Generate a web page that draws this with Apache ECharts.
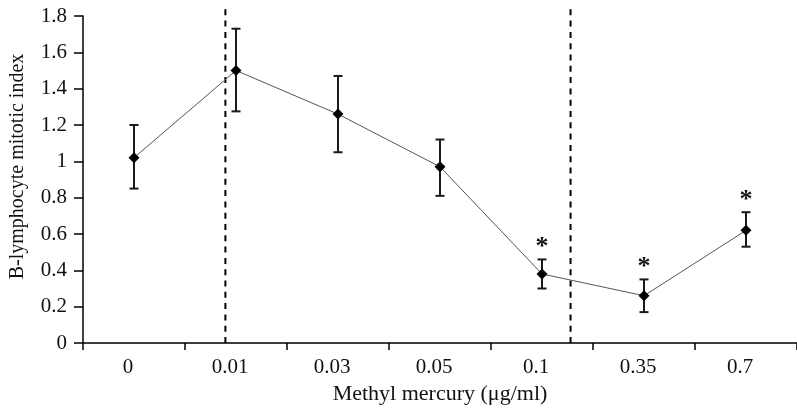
<!DOCTYPE html>
<html>
<head>
<meta charset="utf-8">
<script src="https://cdn.jsdelivr.net/npm/echarts@6/dist/echarts.min.js"></script>
<style>html,body{margin:0;padding:0;background:#fff;}#c{width:797px;height:411px;}</style>
</head>
<body>
<div id="c"></div>
<script>
var categories = ['0', '0.01', '0.03', '0.05', '0.1', '0.35', '0.7'];
var meanValues = [1.02, 1.50, 1.26, 0.97, 0.38, 0.26, 0.62];
var lowerValues = [0.85, 1.275, 1.05, 0.81, 0.30, 0.17, 0.53];
var upperValues = [1.20, 1.73, 1.47, 1.12, 0.46, 0.35, 0.72];
var significant = [false, false, false, false, true, true, true];
var dividerPositions = [0.896, 4.28];
var dividerTop = 1.85;
var yTicks = {min: 0, max: 1.8, interval: 0.2};

var FONT = '"Liberation Serif", "DejaVu Serif", serif';
var chart = echarts.init(document.getElementById('c'), null, {renderer: 'canvas'});

var errData = categories.map(function (c, i) { return [i, lowerValues[i], upperValues[i], significant[i] ? 1 : 0]; });

var dividerSeries = dividerPositions.map(function (p) {
  return {
    type: 'line', xAxisIndex: 1, yAxisIndex: 0, clip: false, silent: true,
    symbol: 'none', data: [[p, 0], [p, dividerTop]],
    lineStyle: {color: '#000', width: 2, type: [6, 5.3]}, z: 1
  };
});

chart.setOption({
  animation: false,
  backgroundColor: '#fff',
  grid: {left: 81, right: -6, top: 16, bottom: 68},
  xAxis: [{
    type: 'category', data: categories, boundaryGap: true,
    axisLine: {onZero: false, lineStyle: {color: '#000', width: 1.5}},
    axisTick: {show: true, length: 7, lineStyle: {color: '#000', width: 1.5}},
    axisLabel: {color: '#111', fontFamily: FONT, fontSize: 21, margin: 14, padding: [0, 12, 0, 0]},
    name: 'Methyl mercury (μg/ml)', nameLocation: 'middle', nameGap: 38,
    nameTextStyle: {color: '#111', fontFamily: FONT, fontSize: 22}
  }, {
    type: 'value', min: -0.5, max: 6.5, show: false
  }],
  yAxis: [{
    type: 'value', min: yTicks.min, max: yTicks.max, interval: yTicks.interval,
    splitLine: {show: false},
    axisLine: {show: true, onZero: false, lineStyle: {color: '#000', width: 1.5}},
    axisTick: {show: true, length: 9, lineStyle: {color: '#000', width: 1.5}},
    axisLabel: {color: '#111', fontFamily: FONT, fontSize: 21, margin: 16},
    name: 'B-lymphocyte mitotic index', nameLocation: 'middle', nameGap: 55,
    nameTextStyle: {color: '#111', fontFamily: FONT, fontSize: 20, padding: [0, 0, 0, 26]}
  }],
  series: dividerSeries.concat([
    {
      type: 'custom', xAxisIndex: 0, yAxisIndex: 0, data: errData, z: 3,
      renderItem: function (params, api) {
        var x = api.value(0);
        var lo = api.coord([x, api.value(1)]);
        var hi = api.coord([x, api.value(2)]);
        var cap = 4.5;
        var style = {stroke: '#1a1a1a', lineWidth: 2};
        var children = [
          {type: 'line', shape: {x1: lo[0], y1: lo[1], x2: hi[0], y2: hi[1]}, style: style},
          {type: 'line', shape: {x1: lo[0] - cap, y1: lo[1], x2: lo[0] + cap, y2: lo[1]}, style: style},
          {type: 'line', shape: {x1: hi[0] - cap, y1: hi[1], x2: hi[0] + cap, y2: hi[1]}, style: style}
        ];
        if (api.value(3)) {
          children.push({type: 'text', x: hi[0], y: hi[1] + 1,
            style: {text: '*', fill: '#111', font: 'bold 26px ' + FONT, textAlign: 'center', textVerticalAlign: 'bottom'}});
        }
        return {type: 'group', children: children};
      }
    },
    {
      type: 'line', xAxisIndex: 0, yAxisIndex: 0, data: meanValues, z: 4,
      symbol: 'diamond', symbolSize: 11,
      itemStyle: {color: '#000'},
      lineStyle: {color: '#555', width: 1}
    }
  ])
});
</script>
</body>
</html>
